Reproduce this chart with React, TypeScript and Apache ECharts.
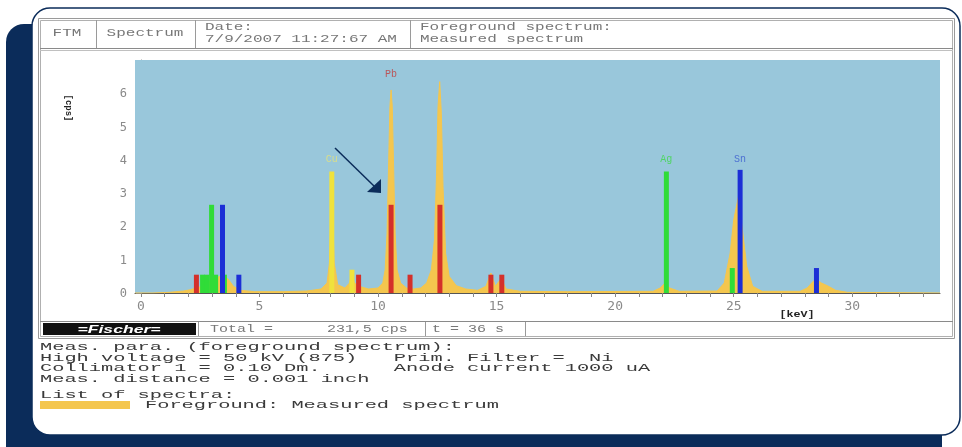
import React, { useEffect, useRef } from "react";
import * as echarts from "echarts";

// ---- Data ----
const spectrumKeV = [
  -0.25, 0.5, 1.2, 1.8, 2.1, 2.3, 2.6, 2.9, 3.0, 3.2, 3.45, 3.7, 3.9, 4.2, 4.8, 6.0, 7.0, 7.6, 7.85, 7.95,
  8.05, 8.15, 8.3, 8.6, 8.8, 8.9, 9.0, 9.2, 9.6, 10.0, 10.2, 10.3, 10.38, 10.45, 10.5, 10.55, 10.6, 10.65, 10.72,
  10.8, 10.95, 11.2, 11.5, 11.8, 12.05, 12.25, 12.38, 12.47, 12.53, 12.6, 12.67, 12.74, 12.85, 13.0, 13.3, 13.7,
  14.2, 14.55, 14.76, 14.95, 15.1, 15.22, 15.4, 16, 18, 21.6, 21.9, 22.1, 22.3, 22.7, 24.3, 24.6, 24.85, 25.0,
  25.2, 25.35, 25.55, 25.8, 26.2, 27.8, 28.1, 28.35, 28.5, 28.7, 29.0, 29.3, 29.8, 33.7,
];
const spectrumCps = [
  0, 0, 0.02, 0.06, 0.1, 0.15, 0.2, 0.35, 0.45, 0.45, 0.55, 0.4, 0.2, 0.08, 0.04, 0.04, 0.06, 0.12, 0.3, 0.9,
  3.2, 0.9, 0.25, 0.15, 0.3, 0.6, 0.3, 0.2, 0.12, 0.15, 0.3, 0.7, 1.8, 4.0, 5.6, 6.1, 5.6, 4.0, 1.8,
  0.7, 0.3, 0.15, 0.12, 0.15, 0.3, 0.7, 1.6, 3.6, 5.6, 6.35, 5.4, 3.2, 1.2, 0.5, 0.22, 0.12,
  0.08, 0.2, 0.6, 0.2, 0.35, 0.4, 0.12, 0.05, 0.04, 0.05, 0.15, 0.3, 0.15, 0.05, 0.06, 0.3, 1.2, 2.2,
  2.9, 2.0, 0.8, 0.2, 0.05, 0.05, 0.15, 0.35, 0.4, 0.3, 0.2, 0.08, 0.02, 0,
];

const pbKeV = [2.34, 9.18, 10.55, 11.35, 12.61, 14.76, 15.22];
const pbCps = [0.55, 0.55, 2.65, 0.55, 2.65, 0.55, 0.55];
const agKeV = [2.6, 2.78, 2.98, 3.15, 3.52, 22.16, 24.94];
const agCps = [0.55, 0.55, 2.65, 0.55, 0.55, 3.65, 0.75];
const snKeV = [3.44, 4.13, 25.27, 28.49];
const snCps = [2.65, 0.55, 3.7, 0.75];
const cuKeV = [8.05, 8.9];
const cuCps = [3.65, 0.7];

const peakLabels = ["Pb", "Cu", "Ag", "Sn"];
const peakLabelKeV = [10.55, 8.05, 22.16, 25.27];
const peakLabelCps = [6.4, 3.85, 3.85, 3.85];

const xTickLabels = [0, 5, 10, 15, 20, 25, 30];
const xMinorTicks = [0, 1, 2, 3, 4, 5, 6, 7, 8, 9, 10, 11, 12, 13, 14, 15, 16, 17, 18, 19, 20, 21, 22, 23, 24, 25, 26, 27, 28, 29, 30, 31, 32, 33];
const yTickLabels = [0, 1, 2, 3, 4, 5, 6];

const headerCells = ["FTM", "Spectrum"];
const headerDate = ["Date:", "7/9/2007 11:27:67 AM"];
const headerSpectrum = ["Foreground spectrum:", "Measured spectrum"];
const statusTotal = "Total =      231,5 cps";
const statusTime = "t = 36 s";
const paramLines = [
  "Meas. para. (foreground spectrum):",
  "High voltage = 50 kV (875)   Prim. Filter =  Ni",
  "Collimator 1 = 0.10 Dm.      Anode current 1000 uA",
  "Meas. distance = 0.001 inch",
];
const listTitle = "List of spectra:";
const listEntry = "Foreground: Measured spectrum";

// ---- Styles ----
const NAVY = "#0b2c5a";
const MONO = "'Liberation Mono', 'DejaVu Sans Mono', monospace";
const COLORS = { pb: "#d4302a", ag: "#30dc38", sn: "#1c2ed6", cu: "#f0e23c", spec: "#f4c64e" };
const labelColors = ["#c23a3a", "#e6e27a", "#3fd84a", "#3a5ad0"];

function lineSeries(name: string, keV: number[], cps: number[], color: string, z: number) {
  return {
    type: "custom",
    name,
    z,
    data: keV.map((e, i) => [e, cps[i]]),
    renderItem: (params: any, api: any) => {
      const top = api.coord([api.value(0), api.value(1)]);
      const base = api.coord([api.value(0), 0]);
      const w = 5;
      return {
        type: "rect",
        shape: { x: top[0] - w / 2, y: top[1], width: w, height: base[1] - top[1] },
        style: { fill: color },
      };
    },
  };
}

function txt(x: number, y: number, text: string, opts: any = {}) {
  return {
    type: "text",
    x,
    y,
    z: 100,
    scaleX: opts.scaleX ?? 1,
    rotation: opts.rotation ?? 0,
    style: {
      text,
      x: 0,
      y: 0,
      fill: opts.fill ?? "#444",
      font: opts.font ?? `12px ${MONO}`,
      textAlign: opts.align ?? "left",
      textVerticalAlign: "middle",
    },
  };
}

function ln(x1: number, y1: number, x2: number, y2: number, stroke = "#9a9a9a", lw = 1) {
  return { type: "line", z: 1, shape: { x1, y1, x2, y2 }, style: { stroke, lineWidth: lw } };
}

export default function App() {
  const ref = useRef<HTMLDivElement>(null);
  useEffect(() => {
    if (!ref.current) return;
    const chart = echarts.init(ref.current, undefined, { renderer: "svg" });
    const PARAM_FONT = `11px ${MONO}`;
    const PARAM_SX = 1.85;

    const graphic: any[] = [
      { type: "rect", z: 0, shape: { x: 6, y: 24, width: 936, height: 440, r: 18 }, style: { fill: NAVY } },
      { type: "rect", z: 0, shape: { x: 32, y: 8, width: 928, height: 427, r: 18 }, style: { fill: "#fff", stroke: NAVY, lineWidth: 1.5 } },
      // window frame
      { type: "rect", z: 1, shape: { x: 38.5, y: 18.5, width: 916, height: 320 }, style: { fill: "none", stroke: "#9a9a9a", lineWidth: 1 } },
      { type: "rect", z: 1, shape: { x: 40.5, y: 20.5, width: 912, height: 316 }, style: { fill: "none", stroke: "#b0b0b0", lineWidth: 1 } },
      ln(40, 48.5, 953, 48.5, "#8a8a8a"),
      ln(40, 50.5, 953, 50.5, "#c0c0c0"),
      ln(96.5, 20, 96.5, 48),
      ln(195.5, 20, 195.5, 48),
      ln(410.5, 20, 410.5, 48),
      // status bar
      ln(40, 321.5, 953, 321.5, "#8a8a8a"),
      ln(198.5, 322, 198.5, 336),
      ln(425.5, 322, 425.5, 336),
      ln(525.5, 322, 525.5, 336),
      { type: "rect", z: 2, shape: { x: 43, y: 323, width: 153, height: 12 }, style: { fill: "#111" } },
      txt(119, 329.5, "=Fischer=", { fill: "#fff", font: `bold italic 11px 'Liberation Sans', Arial, sans-serif`, align: "center", scaleX: 1.6 }),
      txt(67, 33, headerCells[0], { fill: "#777", font: `10px ${MONO}`, align: "center", scaleX: 1.6 }),
      txt(145, 33, headerCells[1], { fill: "#777", font: `10px ${MONO}`, align: "center", scaleX: 1.6 }),
      txt(205, 27, headerDate[0], { fill: "#777", font: `10px ${MONO}`, scaleX: 1.6 }),
      txt(205, 39, headerDate[1], { fill: "#777", font: `10px ${MONO}`, scaleX: 1.6 }),
      txt(420, 27, headerSpectrum[0], { fill: "#777", font: `10px ${MONO}`, scaleX: 1.6 }),
      txt(420, 39, headerSpectrum[1], { fill: "#777", font: `10px ${MONO}`, scaleX: 1.6 }),
      txt(210, 329, statusTotal, { fill: "#777", font: `10px ${MONO}`, scaleX: 1.5 }),
      txt(432, 329, statusTime, { fill: "#777", font: `10px ${MONO}`, scaleX: 1.5 }),
      // axis names
      txt(68, 108, "[cps]", { fill: "#222", font: `bold 9px ${MONO}`, align: "center", rotation: -Math.PI / 2 }),
      txt(797, 314, "[keV]", { fill: "#222", font: `bold 9px ${MONO}`, align: "center", scaleX: 1.3 }),
      // parameter text
      ...paramLines.map((t, i) => txt(40, 347 + i * 10.7, t, { fill: "#3a3a3a", font: PARAM_FONT, scaleX: PARAM_SX })),
      txt(40, 395, listTitle, { fill: "#3a3a3a", font: PARAM_FONT, scaleX: PARAM_SX }),
      { type: "rect", z: 2, shape: { x: 40, y: 401, width: 90, height: 8 }, style: { fill: "#f4c64e" } },
      txt(145, 405, listEntry, { fill: "#3a3a3a", font: PARAM_FONT, scaleX: PARAM_SX }),
      // arrow
      { type: "line", z: 100, shape: { x1: 335, y1: 148, x2: 375, y2: 187 }, style: { stroke: NAVY, lineWidth: 1.5 } },
      { type: "polygon", z: 100, shape: { points: [[381, 193], [367, 192], [381, 179]] }, style: { fill: NAVY } },
    ];

    chart.setOption({
      animation: false,
      backgroundColor: "transparent",
      graphic,
      grid: { left: 135, right: 22, top: 60, bottom: 154, show: true, backgroundColor: "#99c7db", borderWidth: 0, z: 2 },
      xAxis: {
        type: "value",
        min: -0.25,
        max: 33.7,
        axisLine: { show: true, lineStyle: { color: "#555", width: 1 } },
        axisTick: { show: true, customValues: xMinorTicks, length: 4, lineStyle: { color: "#888" } },
        axisLabel: { customValues: xTickLabels, color: "#8a8a8a", fontFamily: "'DejaVu Sans Mono', monospace", fontSize: 13, margin: 6 },
        splitLine: { show: false },
      },
      yAxis: {
        type: "value",
        min: 0,
        max: 7,
        interval: 1,
        axisLine: { show: true, lineStyle: { color: "#888" } },
        axisTick: { show: true, length: 5, lineStyle: { color: "#888" } },
        minorTick: { show: true, splitNumber: 5, length: 3, lineStyle: { color: "#999" } },
        axisLabel: { customValues: yTickLabels, color: "#8a8a8a", fontFamily: "'DejaVu Sans Mono', monospace", fontSize: 12, margin: 8 },
        splitLine: { show: false },
      },
      series: [
        {
          type: "line",
          name: "Measured spectrum",
          z: 3,
          data: spectrumKeV.map((e, i) => [e, spectrumCps[i]]),
          symbol: "none",
          lineStyle: { color: COLORS.spec, width: 1 },
          areaStyle: { color: COLORS.spec, opacity: 1 },
        },
        lineSeries("Pb", pbKeV, pbCps, COLORS.pb, 4),
        lineSeries("Ag", agKeV, agCps, COLORS.ag, 4),
        lineSeries("Sn", snKeV, snCps, COLORS.sn, 4),
        lineSeries("Cu", cuKeV, cuCps, COLORS.cu, 4),
        {
          type: "scatter",
          z: 5,
          symbolSize: 0,
          data: peakLabels.map((n, i) => ({
            name: n,
            value: [peakLabelKeV[i], peakLabelCps[i]],
            label: { show: true, formatter: n, color: labelColors[i], fontSize: 10, fontFamily: MONO, position: "top", distance: 0 },
          })),
        },
      ],
    });
    return () => chart.dispose();
  }, []);
  return <div ref={ref} style={{ position: "fixed", left: 0, top: 0, width: 962, height: 447 }} />;
}
